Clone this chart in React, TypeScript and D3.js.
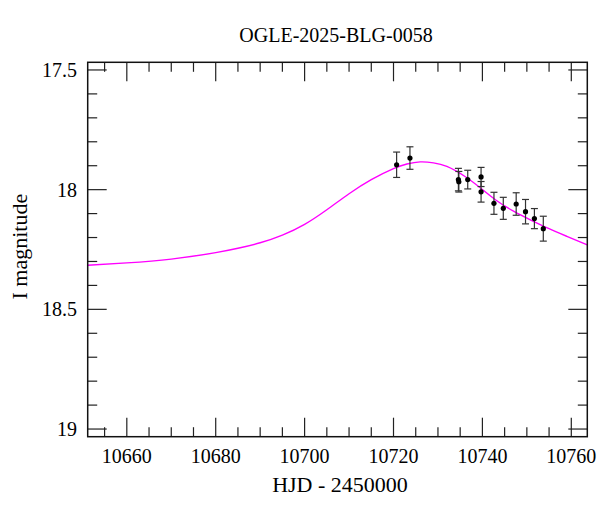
import React from "react";
import * as d3 from "d3";

const TITLE = "OGLE-2025-BLG-0058";
const X_LABEL = "HJD - 2450000";
const Y_LABEL = "I magnitude";

// observations
const obsHJD = [10720.7, 10723.7, 10734.6, 10734.7, 10736.7, 10739.7, 10739.7, 10742.6, 10744.7, 10747.6, 10749.7, 10751.7, 10753.7];
const obsMag = [17.896, 17.868, 17.958, 17.967, 17.958, 17.947, 18.009, 18.057, 18.078, 18.060, 18.092, 18.121, 18.163];
const obsErr = [0.053, 0.047, 0.047, 0.043, 0.039, 0.040, 0.043, 0.046, 0.046, 0.047, 0.051, 0.042, 0.052];

// model curve
const modelHJD = [10651.2, 10660, 10670, 10680, 10685, 10690, 10695, 10700, 10705, 10710, 10715, 10720, 10723, 10726, 10729, 10732, 10736, 10739.7, 10743.0, 10747.0, 10751.0, 10755.0, 10759.0, 10763.6];
const modelMag = [18.316, 18.306, 18.290, 18.263, 18.245, 18.222, 18.190, 18.145, 18.084, 18.017, 17.958, 17.912, 17.893, 17.884, 17.888, 17.903, 17.944, 17.995, 18.043, 18.090, 18.128, 18.163, 18.195, 18.231];

const xMajor = [10660, 10680, 10700, 10720, 10740, 10760];
const yMajor = [17.5, 18, 18.5, 19];

const W = 600, H = 512;
const L = 87.7, R = 587.3, T = 62.3, B = 436.7;

export default function App() {
  const x = d3.scaleLinear().domain([10651.2, 10763.6]).range([L, R]);
  const y = d3.scaleLinear().domain([17.468, 19.032]).range([T, B]);

  const xMinor = d3.range(10655, 10764, 5).filter((v) => !xMajor.includes(v));
  const yMinor = d3.range(175, 191, 1).map((v) => v / 10).filter((v) => !yMajor.includes(v) && v > 17.468 && v < 19.032);

  const line = d3
    .line<number>()
    .x((_, i) => x(modelHJD[i]))
    .y((_, i) => y(modelMag[i]))
    .curve(d3.curveNatural);

  const MAJ = 19, MIN = 9.5;
  const font = "'Liberation Serif', 'Times New Roman', serif";
  const tc = "#222";

  return (
    <svg width={W} height={H} style={{ position: "absolute", left: 0, top: 0, background: "#fff" }}>
      <rect x={0} y={0} width={W} height={H} fill="#fff" />
      <defs>
        <clipPath id="plot">
          <rect x={L} y={T} width={R - L} height={B - T} />
        </clipPath>
      </defs>

      <text x={336} y={41.7} textAnchor="middle" fontFamily={font} fontSize={20} fill="#000">{TITLE}</text>

      {/* ticks */}
      <g stroke={tc} strokeWidth={1.2}>
        {xMajor.map((v) => (
          <g key={"xm" + v}>
            <line x1={x(v)} x2={x(v)} y1={B} y2={B - MAJ} />
            <line x1={x(v)} x2={x(v)} y1={T} y2={T + MAJ} />
          </g>
        ))}
        {xMinor.map((v) => (
          <g key={"xn" + v}>
            <line x1={x(v)} x2={x(v)} y1={B} y2={B - MIN} />
            <line x1={x(v)} x2={x(v)} y1={T} y2={T + MIN} />
          </g>
        ))}
        {yMajor.map((v) => (
          <g key={"ym" + v}>
            <line x1={L} x2={L + MAJ} y1={y(v)} y2={y(v)} />
            <line x1={R} x2={R - MAJ} y1={y(v)} y2={y(v)} />
          </g>
        ))}
        {yMinor.map((v) => (
          <g key={"yn" + v}>
            <line x1={L} x2={L + MIN} y1={y(v)} y2={y(v)} />
            <line x1={R} x2={R - MIN} y1={y(v)} y2={y(v)} />
          </g>
        ))}
      </g>

      {/* model */}
      <path d={line(modelHJD) || ""} fill="none" stroke="#ff00ff" strokeWidth={1.4} clipPath="url(#plot)" />

      {/* error bars and points */}
      <g stroke="#333" strokeWidth={1.2}>
        {obsHJD.map((t, i) => (
          <g key={"e" + i}>
            <line x1={x(t)} x2={x(t)} y1={y(obsMag[i] - obsErr[i])} y2={y(obsMag[i] + obsErr[i])} />
            <line x1={x(t) - 3.5} x2={x(t) + 3.5} y1={y(obsMag[i] - obsErr[i])} y2={y(obsMag[i] - obsErr[i])} />
            <line x1={x(t) - 3.5} x2={x(t) + 3.5} y1={y(obsMag[i] + obsErr[i])} y2={y(obsMag[i] + obsErr[i])} />
          </g>
        ))}
      </g>
      <g fill="#000">
        {obsHJD.map((t, i) => (
          <circle key={"p" + i} cx={x(t)} cy={y(obsMag[i])} r={2.6} />
        ))}
      </g>

      {/* frame */}
      <rect x={L} y={T} width={R - L} height={B - T} fill="none" stroke="#111" strokeWidth={1.5} />

      {/* tick labels */}
      <g fontFamily={font} fontSize={20} fill="#000">
        {xMajor.map((v) => (
          <text key={"xl" + v} x={x(v)} y={463.3} textAnchor="middle">{v}</text>
        ))}
        {yMajor.map((v) => (
          <text key={"yl" + v} x={77} y={y(v) + 7} textAnchor="end">{String(v)}</text>
        ))}
      </g>

      <text x={340} y={491.7} textAnchor="middle" fontFamily={font} fontSize={22} fill="#000">{X_LABEL}</text>
      <text transform={`translate(27.3, 246.7) rotate(-90)`} textAnchor="middle" fontFamily={font} fontSize={22} fill="#000">{Y_LABEL}</text>
    </svg>
  );
}
